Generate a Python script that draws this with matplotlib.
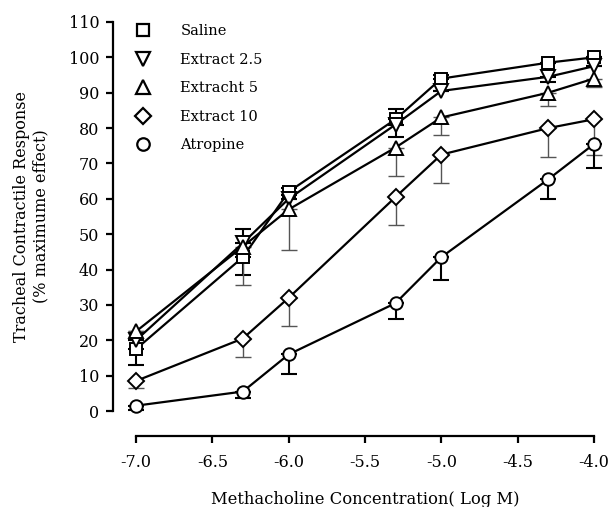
import matplotlib
matplotlib.use("Agg")
import matplotlib.pyplot as plt
from matplotlib.lines import Line2D

plt.rcParams['font.family'] = ['DejaVu Serif']

x = [-7.0, -6.3, -6.0, -5.3, -5.0, -4.3, -4.0]
xticks = [-7.0, -6.5, -6.0, -5.5, -5.0, -4.5, -4.0]
xtick_labels = ["-7.0", "-6.5", "-6.0", "-5.5", "-5.0", "-4.5", "-4.0"]

labels = ["Saline", "Extract 2.5", "Extracht 5", "Extract 10", "Atropine"]
saline = [17.5, 43.5, 62.0, 82.5, 94.0, 98.5, 100.0]
saline_lo = [4.5, 5.0, 1.0, 0.0, 0.0, 0.0, 0.0]
saline_hi = [0.0, 0.0, 1.0, 3.0, 1.0, 0.0, 0.0]
ext25 = [20.0, 47.5, 60.0, 81.0, 90.5, 94.5, 97.5]
ext25_lo = [0.0, 0.0, 0.0, 3.5, 0.0, 1.5, 0.0]
ext25_hi = [0.0, 4.0, 0.0, 0.0, 0.0, 0.0, 0.0]
ext5 = [22.5, 46.5, 57.0, 74.5, 83.0, 90.0, 94.0]
ext5_lo = [0.0, 11.0, 11.5, 8.0, 5.0, 3.8, 2.5]
ext5_hi = [0.0, 0.0, 0.0, 0.0, 0.0, 0.0, 0.0]
ext10 = [8.5, 20.5, 32.0, 60.5, 72.5, 80.0, 82.5]
ext10_lo = [2.0, 5.3, 8.0, 8.0, 8.0, 8.3, 10.0]
ext10_hi = [0.0, 0.0, 0.0, 0.0, 0.0, 0.0, 0.0]
atropine = [1.5, 5.5, 16.0, 30.5, 43.5, 65.5, 75.5]
atropine_lo = [1.2, 1.8, 5.4, 4.5, 6.5, 5.5, 6.8]
atropine_hi = [0.0, 0.0, 0.0, 0.0, 0.0, 0.0, 0.0]

series = [
    (saline, saline_lo, saline_hi, 's', 'black', 1.5),
    (ext25, ext25_lo, ext25_hi, 'v', 'black', 1.5),
    (ext5, ext5_lo, ext5_hi, '^', '#555555', 1.0),
    (ext10, ext10_lo, ext10_hi, 'D', '#555555', 1.0),
    (atropine, atropine_lo, atropine_hi, 'o', 'black', 1.5),
]

fig = plt.figure(figsize=(6.09, 5.07), dpi=100)
ax = fig.add_axes([136/609, 1 - 411/507, (594-136)/609, (411-22)/507])

handles = []
for (vals, lo, hi, m, ecol, elw), lab in zip(series, labels):
    ax.errorbar(x, vals, yerr=[lo, hi], fmt='none', ecolor=ecol, elinewidth=elw,
                capsize=6, capthick=elw, zorder=2, clip_on=False)
for (vals, lo, hi, m, ecol, elw), lab in zip(series, labels):
    ms = 8.5 if m == 'D' else 9
    if m in ('v', '^'):
        ms = 10
    ax.plot(x, vals, color='black', lw=1.6, marker=m, markersize=ms,
            markerfacecolor='white', markeredgecolor='black', markeredgewidth=1.4,
            zorder=3, clip_on=False)
    handles.append(Line2D([], [], ls='none', marker=m, markersize=ms,
                          markerfacecolor='white', markeredgecolor='black',
                          markeredgewidth=1.6))

ax.set_xlim(-7, -4)
ax.set_ylim(0, 110)
ax.set_xticks(xticks)
ax.set_xticklabels(xtick_labels)
ax.set_yticks(range(0, 111, 10))

for s in ['top', 'right']:
    ax.spines[s].set_visible(False)
ax.spines['left'].set_position(('outward', 16.5))
ax.spines['bottom'].set_position(('outward', 18))
ax.spines['left'].set_linewidth(1.6)
ax.spines['bottom'].set_linewidth(1.6)
ax.tick_params(axis='both', direction='out', length=5, width=1.6, labelsize=11.5)
ax.tick_params(axis='x', pad=8)
ax.tick_params(axis='y', pad=5)

ax.set_ylabel("Tracheal Contractile Response\n(% maximume effect)", fontsize=11.5,
              labelpad=14, linespacing=1.2)
ax.set_xlabel("Methacholine Concentration( Log M)", fontsize=11.8, labelpad=14)

ax.legend(handles, labels, loc='upper left', bbox_to_anchor=(-0.016, 1.009), frameon=False,
          fontsize=10.5, handlelength=1.2, handletextpad=1.95, labelspacing=0.99,
          borderaxespad=0)

fig.savefig("out.png", dpi=100)
